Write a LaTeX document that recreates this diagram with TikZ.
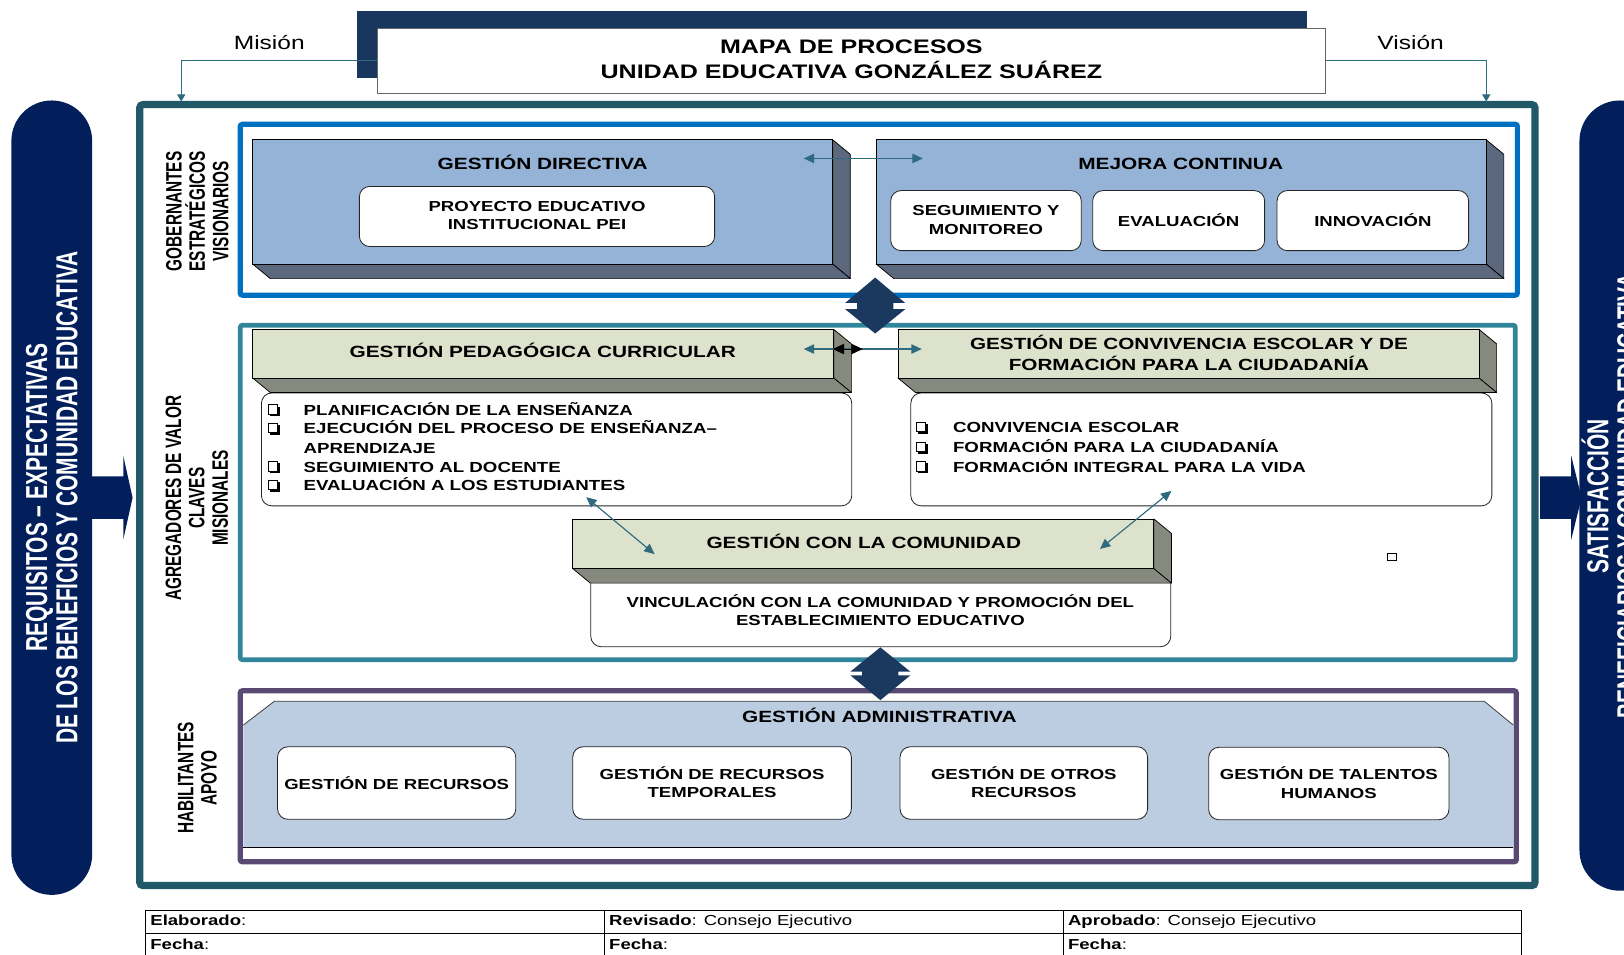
\documentclass[tikz,border=0pt]{standalone}
\usepackage{fontspec}
\setmainfont{Liberation Sans}
\newfontfamily\widefont[FakeStretch=1.28]{Liberation Sans}
\newfontfamily\tallfont[FakeStretch=0.69]{Liberation Sans}
\usetikzlibrary{arrows.meta}

\definecolor{navy}{RGB}{2,31,92}
\definecolor{framecol}{RGB}{33,89,104}
\definecolor{titledark}{RGB}{24,54,94}
\definecolor{diacol}{RGB}{27,56,94}
\definecolor{bandblue}{RGB}{0,112,192}
\definecolor{bandteal}{RGB}{49,133,155}
\definecolor{bandpurple}{RGB}{89,73,115}
\definecolor{slabblue}{RGB}{149,179,215}
\definecolor{slabblueside}{RGB}{91,104,125}
\definecolor{slabkhaki}{RGB}{221,226,204}
\definecolor{slabkhakiside}{RGB}{134,137,126}
\definecolor{adminfill}{RGB}{188,205,226}
\definecolor{linkcol}{RGB}{46,107,126}

\newcommand{\fsz}[2]{\fontsize{#1}{#2}\selectfont}

% 3D slab: left, top, right, bottom, face colour, side colour
\newcommand{\slab}[6]{%
  \filldraw[fill=#6, draw=black, line width=0.7pt, line join=round]
    (#3,#2) -- ({#3+17},{#2+14}) -- ({#3+17},{#4+14}) -- (#3,#4) -- cycle;
  \filldraw[fill=#6, draw=black, line width=0.7pt, line join=round]
    (#1,#4) -- (#3,#4) -- ({#3+17},{#4+14}) -- ({#1+17},{#4+14}) -- cycle;
  \filldraw[fill=#5, draw=black, line width=0.7pt] (#1,#2) rectangle (#3,#4);
}

% shadowed check box centred at (x,y)
\newcommand{\cbox}[2]{%
  \draw[line width=1pt] ({#1-5},{#2-5}) rectangle ({#1+4},{#2+4});
  \fill ({#1-3.5},{#2+3.5}) rectangle ({#1+6},{#2+6});
  \fill ({#1+3.5},{#2-3.5}) rectangle ({#1+6},{#2+6});
}

% double-headed diamond arrow: centre x, top, notch top, notch bottom, bottom
\newcommand{\updown}[5]{%
  \fill[diacol] (#1,#2) -- ({#1+29},#3) -- ({#1+17.5},#3) -- ({#1+17.5},#4)
    -- ({#1+29},#4) -- (#1,#5) -- ({#1-29},#4) -- ({#1-17.5},#4)
    -- ({#1-17.5},#3) -- ({#1-29},#3) -- cycle;
}

\tikzset{
  x=1pt, y=-1pt,
  head/.style={font=\widefont\bfseries\fsz{15.7}{20}, inner sep=0pt, anchor=base},
  headml/.style={font=\widefont\bfseries\fsz{15.6}{20}, inner sep=0pt, align=center},
  boxtext/.style={font=\widefont\bfseries\fsz{14}{17.8}, align=center, inner sep=0pt},
  wbox/.style={draw=black!85, fill=white, rounded corners=10pt, line width=0.8pt, inner sep=0pt},
  itemtext/.style={font=\widefont\bfseries\fsz{14.1}{18}, anchor=base west, inner sep=0pt},
  vlabel/.style={font=\tallfont\bfseries\fsz{21.5}{22.5}, rotate=90, align=center, inner sep=0pt},
  pilltext/.style={font=\tallfont\bfseries\fsz{29.3}{29}, rotate=90, align=center, text=white, inner sep=0pt},
  link/.style={draw=linkcol, line width=1.1pt,
    {Triangle[length=10pt,width=9pt]}-{Triangle[length=10pt,width=9pt]}},
  flow/.style={draw=linkcol, line width=1pt, -{Triangle[length=7pt,width=8pt]}},
  foot/.style={font=\widefont\fsz{14}{16}, anchor=base west, inner sep=0pt},
}

\begin{document}
\begin{tikzpicture}
\useasboundingbox (0,0) rectangle (1568,922);

% side pills with block arrows
\fill[navy, rounded corners=39pt] (11,97) rectangle (89,864);
\node[pilltext] (req) at (50,480.5) {REQUISITOS – EXPECTATIVAS\\DE LOS BENEFICIOS Y COMUNIDAD EDUCATIVA};
\fill[navy] (89,460) -- (119,460) -- (119,440) -- (128,480.5) -- (119,521) -- (119,501) -- (89,501) -- cycle;

\fill[navy, rounded corners=39pt] (1525,97) rectangle (1603,860);
\node[pilltext] (sat) at (1554.5,479) {SATISFACCIÓN\\BENEFICIARIOS Y COMUNIDAD EDUCATIVA};
\fill[navy] (1487,460) -- (1517,460) -- (1517,440) -- (1527,480.5) -- (1517,521) -- (1517,501) -- (1487,501) -- cycle;

% main frame
\draw[framecol, line width=7pt, rounded corners=3pt] (135,101) rectangle (1482,855);

% title
\fill[titledark] (345,11) rectangle (1262,75);
\node[draw=black!60, line width=0.9pt, fill=white, minimum width=916pt, minimum height=63pt, inner sep=0pt] (titlebox) at (822,58.5) {};
\node[font=\widefont\bfseries\fsz{18.9}{24}, inner sep=0pt, anchor=base] (t1) at (822,51.7) {MAPA DE PROCESOS};
\node[font=\widefont\bfseries\fsz{18.9}{24}, inner sep=0pt, anchor=base] (t2) at (822,75.7) {UNIDAD EDUCATIVA GONZÁLEZ SUÁREZ};

\node[font=\widefont\fsz{18.5}{20}, inner sep=0pt, anchor=base] (mision) at (260,48) {Misión};
\node[font=\widefont\fsz{18.5}{20}, inner sep=0pt, anchor=base] (vision) at (1362,48) {Visión};
\coordinate (misEnd) at (175,98);
\coordinate (visEnd) at (1435,98);
\draw[flow] (titlebox.west) -| (misEnd);
\draw[flow] (titlebox.east) -| (visEnd);

% process bands
\draw[bandblue, line width=5pt, rounded corners=2pt] (232,120) rectangle (1465,285);
\draw[bandteal, line width=4.5pt, rounded corners=2pt] (232,314) rectangle (1463,637);
\draw[bandpurple, line width=5pt, rounded corners=2pt] (232,667) rectangle (1464,832);

\node[vlabel] (lgob) at (190.5,204) {GOBERNANTES\\ESTRATÉGICOS\\VISIONARIOS};
\node[vlabel] (lagr) at (190,481) {AGREGADORES DE VALOR\\CLAVES\\MISIONALES};
\node[vlabel] (lhab) at (190.5,751) {HABILITANTES\\APOYO};

% strategic processes
\slab{244}{135}{804}{255}{slabblue}{slabblueside}
\node[head] (gd) at (524,163.6) {GESTIÓN DIRECTIVA};
\node[wbox, minimum width=343pt, minimum height=58pt] (pei) at (518.5,209) {};
\node[boxtext] (peit) at (518.5,208) {PROYECTO EDUCATIVO\\INSTITUCIONAL PEI};

\slab{846}{135}{1435}{255}{slabblue}{slabblueside}
\node[head] (mc) at (1140,163.6) {MEJORA CONTINUA};
\node[wbox, minimum width=184pt, minimum height=58pt] (seg) at (952,213) {};
\node[boxtext] (segt) at (952,212.5) {SEGUIMIENTO Y\\MONITOREO};
\node[wbox, minimum width=166pt, minimum height=58pt] (eva) at (1138,213) {};
\node[boxtext] (evat) at (1138,213) {EVALUACIÓN};
\node[wbox, minimum width=185pt, minimum height=58pt] (inn) at (1325.5,213) {};
\node[boxtext] (innt) at (1325.5,213) {INNOVACIÓN};

\coordinate (gdR) at (776,153);
\coordinate (mcL) at (891,153);
\draw[link] (gdR) -- (mcL);

% key processes
\node[wbox, minimum width=570pt, minimum height=109pt, anchor=north west] (list1) at (252,379) {};
\slab{244}{318}{805}{365}{slabkhaki}{slabkhakiside}
\node[head] (gpc) at (524,345.6) {GESTIÓN PEDAGÓGICA CURRICULAR};
\cbox{264}{396} \node[itemtext] (i1) at (293,401) {PLANIFICACIÓN DE LA ENSEÑANZA};
\cbox{264}{414} \node[itemtext] (i2) at (293,419) {EJECUCIÓN DEL PROCESO DE ENSEÑANZA–};
\node[itemtext] (i2b) at (293,437.5) {APRENDIZAJE};
\cbox{264}{451} \node[itemtext] (i3) at (293,456) {SEGUIMIENTO AL DOCENTE};
\cbox{264}{469} \node[itemtext] (i4) at (293,474) {EVALUACIÓN A LOS ESTUDIANTES};

\node[wbox, minimum width=561pt, minimum height=109pt, anchor=north west] (list2) at (879,379) {};
\slab{867}{318}{1428}{365}{slabkhaki}{slabkhakiside}
\node[headml] (gce) at (1148,341) {GESTIÓN DE CONVIVENCIA ESCOLAR Y DE\\FORMACIÓN PARA LA CIUDADANÍA};
\cbox{890}{413} \node[itemtext] (j1) at (920,418) {CONVIVENCIA ESCOLAR};
\cbox{890}{432} \node[itemtext] (j2) at (920,437) {FORMACIÓN PARA LA CIUDADANÍA};
\cbox{890}{451} \node[itemtext] (j3) at (920,456) {FORMACIÓN INTEGRAL PARA LA VIDA};

\node[wbox, minimum width=560pt, minimum height=84pt, anchor=north west] (vinc) at (570,540) {};
\slab{553}{501}{1114}{549}{slabkhaki}{slabkhakiside}
\node[head] (gcc) at (834,529.6) {GESTIÓN CON LA COMUNIDAD};
\node[boxtext] (vinct) at (850,589) {VINCULACIÓN CON LA COMUNIDAD Y PROMOCIÓN DEL\\ESTABLECIMIENTO EDUCATIVO};

\draw[line width=1pt] (1340,534.5) rectangle (1348,541.5);

\coordinate (gpcR) at (776,337);
\coordinate (gceL) at (890,337);
\draw[link] (gpcR) -- (gceL);
\coordinate (bkL) at (804,337);
\coordinate (bkR) at (833,337);
\draw[black, line width=1pt, {Triangle[length=11pt,width=10pt]}-{Triangle[length=11pt,width=10pt]}] (bkL) -- (bkR);
\coordinate (l1B) at (566,480);
\coordinate (gccL) at (632,535);
\draw[link] (l1B) -- (gccL);
\coordinate (l2B) at (1131,474);
\coordinate (gccR) at (1062,530);
\draw[link] (l2B) -- (gccR);

% support processes
\fill[adminfill] (265,677) -- (1433,677) -- (1461,700) -- (1461,818) -- (235,818) -- (235,700) -- cycle;
\draw[black!75, line width=0.8pt] (235,700) -- (265,677) -- (1433,677) -- (1461,700);
\draw[black, line width=0.9pt] (235,818) -- (1461,818);
\node[head] (ga) at (849,697.6) {GESTIÓN ADMINISTRATIVA};
\node[wbox, minimum width=230pt, minimum height=70pt] (r1) at (383,756) {};
\node[boxtext] (r1t) at (383,756) {GESTIÓN DE RECURSOS};
\node[wbox, minimum width=269pt, minimum height=70pt] (r2) at (687.5,756) {};
\node[boxtext] (r2t) at (687.5,755) {GESTIÓN DE RECURSOS\\TEMPORALES};
\node[wbox, minimum width=239pt, minimum height=70pt] (r3) at (988.5,756) {};
\node[boxtext] (r3t) at (988.5,755) {GESTIÓN DE OTROS\\RECURSOS};
\node[wbox, minimum width=232pt, minimum height=70pt] (r4) at (1283,756.5) {};
\node[boxtext] (r4t) at (1283,755.5) {GESTIÓN DE TALENTOS\\HUMANOS};

% links between levels
\updown{845}{268}{292.5}{298.5}{322}
\updown{850}{625}{648.5}{652}{676}

% sign-off table
\draw[line width=0.8pt] (140,879) -- (1469,879) (140,901) -- (1469,901) (140,924) -- (1469,924);
\draw[line width=0.8pt] (140,879) -- (140,924) (584,879) -- (584,924) (1027,879) -- (1027,924) (1469,879) -- (1469,924);
\node[foot] (el) at (145,894) {\textbf{Elaborado}:};
\node[foot] (rv) at (588,894) {\textbf{Revisado}: Consejo Ejecutivo};
\node[foot] (ap) at (1031,894) {\textbf{Aprobado}: Consejo Ejecutivo};
\node[foot] (f1) at (145,917) {\textbf{Fecha}:};
\node[foot] (f2) at (588,917) {\textbf{Fecha}:};
\node[foot] (f3) at (1031,917) {\textbf{Fecha}:};
\end{tikzpicture}
\end{document}
